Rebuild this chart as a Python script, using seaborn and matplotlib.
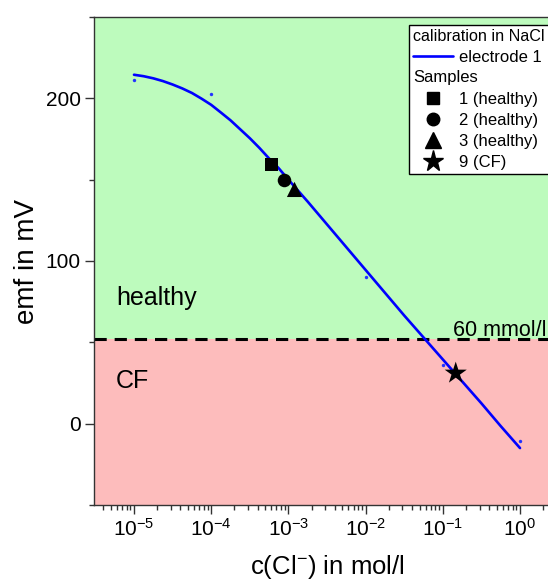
import numpy as np
import pandas as pd
import matplotlib
matplotlib.use("Agg")
import matplotlib.pyplot as plt
import matplotlib.text as mtext
import seaborn as sns
from matplotlib.lines import Line2D
from matplotlib.ticker import LogLocator, MultipleLocator, FixedLocator, NullFormatter

# ---------------- data ----------------
fit_log_conc = [-5.0, -4.875, -4.75, -4.625, -4.5, -4.375, -4.25, -4.125, -4.0, -3.875,
                -3.75, -3.625, -3.5, -3.375, -3.25, -3.125, -3.0, -2.75,
                -2.5, -2.25, -2.0, -1.75, -1.5, -1.25, -1.0, -0.75, -0.5, -0.25, 0.0]
fit_emf = [214.5, 213.6, 212.3, 210.6, 208.5, 206.1, 203.3, 199.8, 196.0, 191.3,
           186.5, 181.0, 175.5, 169.5, 163.0, 157.0, 150.0, 136.5,
           122.5, 108.5, 94.5, 80.5, 66.5, 53.0, 39.5, 26.0, 12.5, -1.5, -15.0]

calib_conc = [1e-5, 1e-4, 1e-3, 1e-2, 1e-1, 1e0]
calib_emf = [211.0, 202.5, 149.0, 90.0, 36.0, -10.5]

sample_labels = ["1 (healthy)", "2 (healthy)", "3 (healthy)", "9 (CF)"]
sample_conc = [6.0e-4, 8.9e-4, 1.2e-3, 0.147]
sample_emf = [159.5, 149.5, 144.0, 31.0]
sample_markers = ["s", "o", "^", "*"]

threshold_emf = 52.0
threshold_label = "60 mmol/l"
region_labels = ["healthy", "CF"]
x_ticks = [1e-5, 1e-4, 1e-3, 1e-2, 1e-1, 1e0]
y_ticks = [0, 100, 200]

# ---------------- style ----------------
sns.set_style("ticks")
plt.rcParams["font.family"] = ["Liberation Sans", "DejaVu Sans"]
plt.rcParams["mathtext.default"] = "regular"
for key in ["text.color", "axes.labelcolor", "xtick.labelcolor", "ytick.labelcolor"]:
    plt.rcParams[key] = "black"

fit_df = pd.DataFrame({"conc": [10 ** v for v in fit_log_conc], "emf": fit_emf})
calib_df = pd.DataFrame({"conc": calib_conc, "emf": calib_emf})
sample_df = pd.DataFrame({"conc": sample_conc, "emf": sample_emf, "sample": sample_labels})

fig = plt.figure(figsize=(5.48, 5.84), dpi=100)
ax = fig.add_axes([94 / 548, 79 / 584, 466 / 548, 488 / 584])
ax.set_xscale("log")
ax.set_xlim(10 ** -5.518, 10 ** 0.518)
ax.set_ylim(-50, 250)

green = "#bdfbbd"
pink = "#fdbcbc"
ax.axhspan(threshold_emf, 250, color=green, zorder=0, lw=0)
ax.axhspan(-50, threshold_emf, color=pink, zorder=0, lw=0)
ax.axhline(threshold_emf, color="black", lw=2.2, dashes=(4, 2.6), zorder=1)

sns.lineplot(data=fit_df, x="conc", y="emf", ax=ax, color="#0000ff", lw=1.9,
             sort=False, legend=False, zorder=3)
sns.scatterplot(data=calib_df, x="conc", y="emf", ax=ax, color="#2233ff", s=6,
                linewidth=0, legend=False, zorder=2)

marker_map = dict(zip(sample_labels, sample_markers))
size_map = dict(zip(sample_labels, [85, 95, 120, 280]))
sns.scatterplot(data=sample_df, x="conc", y="emf", ax=ax, style="sample",
                markers=marker_map, size="sample", sizes=size_map,
                color="black", edgecolor="black", linewidth=0, legend=False, zorder=4)

# region labels
ax.text(10 ** -5.233, 77.5, region_labels[0], fontsize=18, ha="left", va="center", zorder=5)
ax.text(10 ** -5.233, 26.5, region_labels[1], fontsize=18, ha="left", va="center", zorder=5)
ax.text(0.136, 54.0, threshold_label, fontsize=15.5, ha="left", va="baseline", zorder=5)

# axes formatting
ax.set_xticks(x_ticks)
ax.xaxis.set_minor_locator(LogLocator(base=10, subs=np.arange(2, 10), numticks=20))
ax.xaxis.set_minor_formatter(NullFormatter())
ax.yaxis.set_major_locator(FixedLocator(y_ticks))
ax.yaxis.set_minor_locator(MultipleLocator(50))
ax.tick_params(axis="both", which="major", direction="out", length=6.5, width=1,
               labelsize=15, color="#333333", pad=3)
ax.tick_params(axis="both", which="minor", direction="out", length=3.5, width=1,
               color="#333333")
for sp in ax.spines.values():
    sp.set_color("#333333")
    sp.set_linewidth(1.0)

ax.set_xlabel("c(Cl$^{-}$) in mol/l", fontsize=18.5, labelpad=9)
ax.set_ylabel("emf in mV", fontsize=20, labelpad=4)


# legend with section header "Samples"
class SectionHeader:
    def __init__(self, text):
        self.text = text


class SectionHeaderHandler:
    def legend_artist(self, legend, orig_handle, fontsize, handlebox):
        x0, y0 = handlebox.xdescent, handlebox.ydescent
        t = mtext.Text(-x0, -y0 + handlebox.height / 2, orig_handle.text,
                       fontsize=fontsize, va="center", ha="left", color="black")
        handlebox.add_artist(t)
        return t


legend_marker_sizes = [8.0, 9.0, 11.0, 15.5]
handles = [Line2D([], [], color="#0000ff", lw=1.9), SectionHeader("Samples")]
labels = ["electrode 1", ""]
for lab, m, ms in zip(sample_labels, sample_markers, legend_marker_sizes):
    handles.append(Line2D([], [], color="black", marker=m, ls="none", markersize=ms))
    labels.append(lab)

leg = ax.legend(handles, labels, title="calibration in NaCl", fontsize=12, title_fontsize=11.6,
                loc="upper left", bbox_to_anchor=(409 / 548, 1 - 25 / 584),
                bbox_transform=fig.transFigure, borderaxespad=0, frameon=True,
                fancybox=False, framealpha=1, edgecolor="black", handlelength=2.4,
                handletextpad=0.35, labelspacing=0.36, borderpad=0.25,
                alignment="left", handler_map={SectionHeader: SectionHeaderHandler()})
leg.get_frame().set_linewidth(1.0)
leg.set_zorder(10)

fig.savefig("out.png", dpi=100)
